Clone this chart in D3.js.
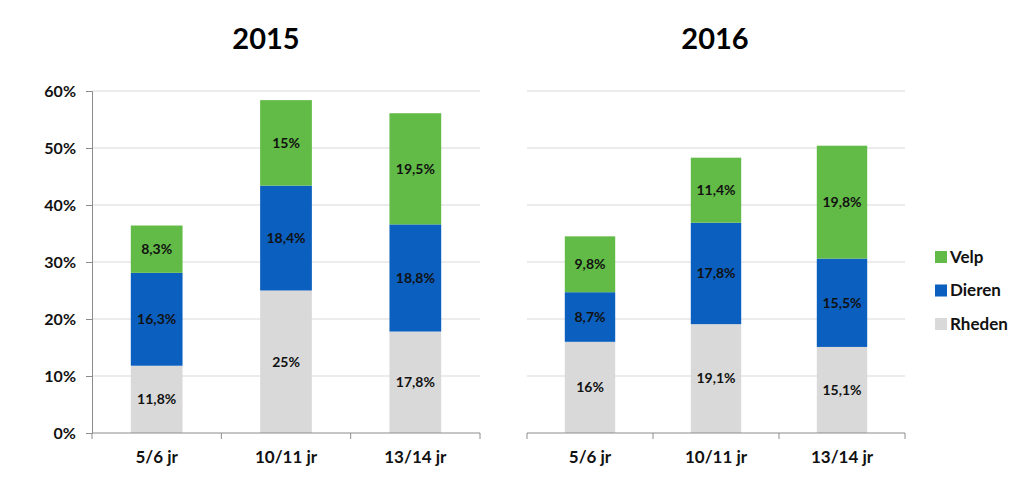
<!DOCTYPE html>
<html><head><meta charset="utf-8">
<script src="https://cdn.jsdelivr.net/npm/d3@7"></script>
<style>body{margin:0;background:#fff}svg{display:block}text{font-family:Lato,"Open Sans",sans-serif;font-weight:bold}</style>
</head><body>
<svg id="c" width="1024" height="501"></svg>
<script>
const categories = ["5/6 jr", "10/11 jr", "13/14 jr"];
const seriesNames = ["Rheden", "Dieren", "Velp"];
const years = ["2015", "2016"];
const rheden2015 = [11.8, 25, 17.8];
const dieren2015 = [16.3, 18.4, 18.8];
const velp2015 = [8.3, 15, 19.5];
const rheden2016 = [16, 19.1, 15.1];
const dieren2016 = [8.7, 17.8, 15.5];
const velp2016 = [9.8, 11.4, 19.8];
const yTicks = [0, 10, 20, 30, 40, 50, 60];
const colors = {Rheden: "#d9d9d9", Dieren: "#0b5fbf", Velp: "#62bb46"};

const svg = d3.select("#c");
const panels = [
  {year: years[0], data: [rheden2015, dieren2015, velp2015], x0: 92, x1: 480, yAxis: true, cx: 266},
  {year: years[1], data: [rheden2016, dieren2016, velp2016], x0: 527, x1: 905, yAxis: false, cx: 715}
];
const y = d3.scaleLinear().domain([0, 60]).range([433, 91]);
const fmt = v => String(v).replace(".", ",") + "%";

panels.forEach(p => {
  const g = svg.append("g");
  const x = d3.scaleBand().domain(categories).range([p.x0, p.x1]).paddingInner(0.6).paddingOuter(0.3);
  g.selectAll(".grid").data(yTicks.filter(t => t > 0)).join("line")
    .attr("x1", p.x0).attr("x2", p.x1).attr("y1", d => y(d)).attr("y2", d => y(d))
    .attr("stroke", "#d9d9d9").attr("stroke-width", 1);
  const rows = categories.map((c, i) => {
    const o = {cat: c};
    seriesNames.forEach((s, k) => o[s] = p.data[k][i]);
    return o;
  });
  const stack = d3.stack().keys(seriesNames)(rows);
  stack.forEach(layer => {
    const lg = g.append("g");
    lg.selectAll("rect").data(layer).join("rect")
      .attr("x", d => x(d.data.cat)).attr("width", x.bandwidth())
      .attr("y", d => y(d[1])).attr("height", d => y(d[0]) - y(d[1]))
      .attr("fill", colors[layer.key]);
    lg.selectAll("text").data(layer).join("text")
      .attr("x", d => x(d.data.cat) + x.bandwidth() / 2)
      .attr("y", d => (y(d[0]) + y(d[1])) / 2)
      .attr("dy", "0.35em").attr("text-anchor", "middle")
      .attr("font-size", 14).attr("fill", "#111")
      .text(d => fmt(d.data[layer.key]));
  });
  const xa = g.append("g").attr("transform", "translate(0,433)");
  xa.append("line").attr("x1", p.x0).attr("x2", p.x1).attr("stroke", "#8c8c8c");
  const tickXs = [p.x0].concat(categories.map((c, i) => p.x0 + (p.x1 - p.x0) * (i + 1) / categories.length));
  xa.selectAll(".tk").data(tickXs).join("line")
    .attr("x1", d => d).attr("x2", d => d).attr("y1", 0).attr("y2", 6).attr("stroke", "#8c8c8c");
  xa.selectAll(".lb").data(categories).join("text")
    .attr("x", c => x(c) + x.bandwidth() / 2).attr("y", 30)
    .attr("text-anchor", "middle").attr("font-size", 17).attr("fill", "#111").text(c => c);
  if (p.yAxis) {
    const ya = g.append("g").attr("transform", `translate(${p.x0},0)`)
      .call(d3.axisLeft(y).tickValues(yTicks).tickFormat(d => d + "%").tickSize(6).tickPadding(10));
    ya.select(".domain").attr("stroke", "#8c8c8c");
    ya.selectAll(".tick line").attr("stroke", "#8c8c8c");
    ya.selectAll(".tick text").attr("font-size", 16).attr("fill", "#111")
      .style("font-family", "Lato,'Open Sans',sans-serif").style("font-weight", "bold");
  }
  svg.append("text").attr("x", p.cx).attr("y", 49).attr("text-anchor", "middle")
    .attr("font-size", 29).attr("fill", "#000").text(p.year);
});

const legendOrder = ["Velp", "Dieren", "Rheden"];
const lg = svg.append("g");
legendOrder.forEach((s, i) => {
  const yy = 257 + i * 33.5;
  lg.append("rect").attr("x", 935).attr("y", yy - 6).attr("width", 12).attr("height", 12).attr("fill", colors[s]);
  lg.append("text").attr("x", 950).attr("y", yy).attr("dy", "0.35em").attr("font-size", 17).attr("fill", "#111").text(s);
});
</script>
</body></html>
